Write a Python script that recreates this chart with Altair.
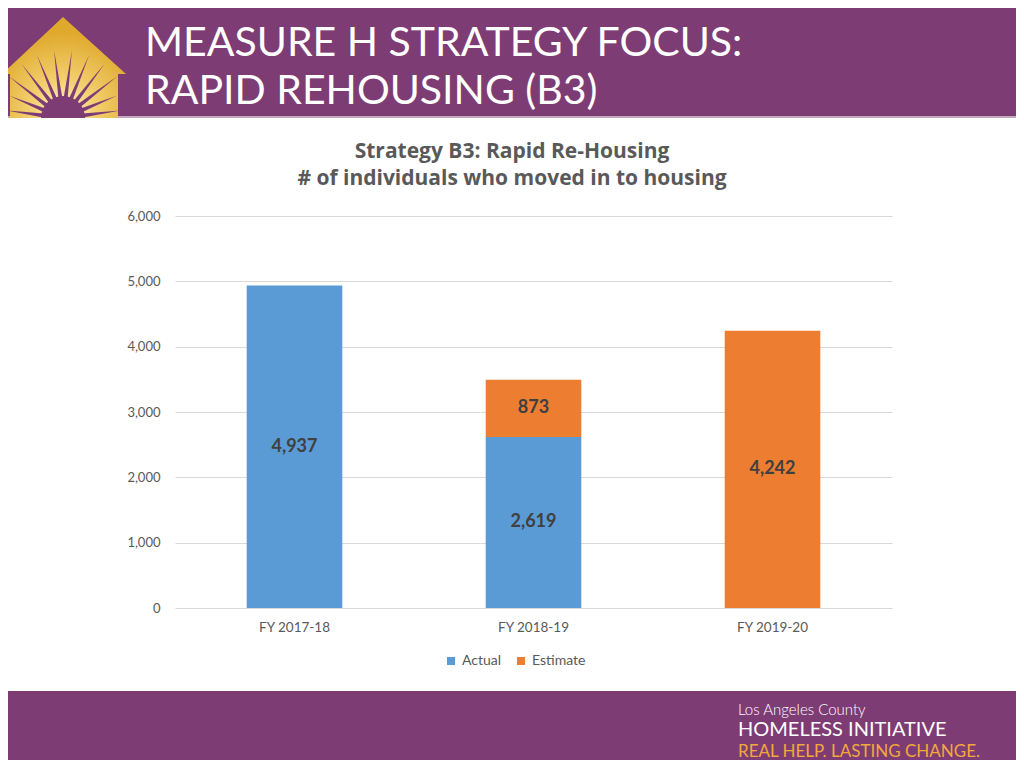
import base64
import math
import altair as alt
import pandas as pd

# ---------------- data ----------------
years = ["FY 2017-18", "FY 2018-19", "FY 2019-20"]
actual = [4937, 2619, 0]
estimate = [0, 873, 4242]
series = ["Actual", "Estimate"]
series_colors = ["#5B9BD5", "#ED7D31"]
y_ticks = [0, 1000, 2000, 3000, 4000, 5000, 6000]

title_lines = ["Strategy B3: Rapid Re-Housing", "# of individuals who moved in to housing"]
header_lines = ["MEASURE H STRATEGY FOCUS:", "RAPID REHOUSING (B3)"]
footer_lines = ["Los Angeles County", "HOMELESS INITIATIVE", "REAL HELP. LASTING CHANGE."]

rows = []
for i, yr in enumerate(years):
    for order, (name, vals) in enumerate(zip(series, [actual, estimate])):
        if vals[i] > 0:
            rows.append({"year": yr, "series": name, "value": vals[i], "order": order})
df = pd.DataFrame(rows)
one = pd.DataFrame({"k": [0]})

PURPLE = "#7E3C74"
TXT = "#595959"
FONT = "Lato"

# plot area: page x 175..892, page y 216..608 ; canvas starts at page (8, 8)
W, H = 717, 392
OX, OY = 175, 216
def px(x):
    return x - OX
def py(y):
    return y - OY

# ---------------- logo (decoration, page coordinates) ----------------
rays = []
cx, cy = 63, 118
for k in range(12):
    a = math.radians(172.5 - 15 * k)
    r_tip = 58 if abs(math.cos(a)) > 0.8 else 68
    pts = []
    for da, r in [(-0.10, 20), (0.0, r_tip), (0.10, 20)]:
        pts.append(f"{cx + r * math.cos(a + da):.1f},{cy - r * math.sin(a + da):.1f}")
    rays.append(f'<polygon points="{" ".join(pts)}" fill="{PURPLE}"/>')
svg = f'''<svg xmlns="http://www.w3.org/2000/svg" width="128" height="110" viewBox="8 8 128 110">
<defs><radialGradient id="g" cx="63" cy="112" r="80" gradientUnits="userSpaceOnUse">
<stop offset="0" stop-color="#FFF6CF"/><stop offset="0.4" stop-color="#F3D070"/><stop offset="1" stop-color="#DFA92C"/></radialGradient>
<clipPath id="c"><polygon points="10,118 10,74 2,74 63,17 126,74 118,74 118,118"/></clipPath></defs>
<polygon points="10,118 10,74 2,74 63,17 126,74 118,74 118,118" fill="url(#g)"/>
<g clip-path="url(#c)">{"".join(rays)}<circle cx="{cx}" cy="{cy}" r="22" fill="{PURPLE}"/></g>
</svg>'''
logo_url = "data:image/svg+xml;base64," + base64.b64encode(svg.encode()).decode()

# ---------------- decorations ----------------
header_band = alt.Chart(one).mark_rect(color=PURPLE).encode(
    x=alt.value(px(8)), x2=alt.value(px(1016)), y=alt.value(py(8)), y2=alt.value(py(116)))
header_line = alt.Chart(one).mark_rect(color="#C4A9BF").encode(
    x=alt.value(px(8)), x2=alt.value(px(1016)), y=alt.value(py(116)), y2=alt.value(py(118)))
footer_band = alt.Chart(one).mark_rect(color=PURPLE).encode(
    x=alt.value(px(8)), x2=alt.value(px(1016)), y=alt.value(py(691)), y2=alt.value(py(760)))
logo = alt.Chart(one).mark_image(url=logo_url, width=128, height=110, align="left", baseline="top").encode(
    x=alt.value(px(8)), y=alt.value(py(8)))

def text(t, x, y, size, color, weight="normal", align="left", font=FONT):
    return alt.Chart(one).mark_text(text=t, fontSize=size, color=color, fontWeight=weight,
                                    align=align, baseline="alphabetic", font=font).encode(
        x=alt.value(px(x)), y=alt.value(py(y)))

texts = [
    text(header_lines[0], 145, 56, 41, "white"),
    text(header_lines[1], 145, 104, 41, "white"),
    text(title_lines[0], 512, 158, 21, TXT, "bold", "center", "Open Sans"),
    text(title_lines[1], 512, 185, 21, TXT, "bold", "center", "Open Sans"),
    text(footer_lines[0], 738, 715, 15, "white", 300),
    text(footer_lines[1], 738, 736, 20, "white"),
    text(footer_lines[2], 738, 757, 17, "#F2A93B"),
]

# ---------------- chart ----------------
x_enc = alt.X("year:N", sort=years,
              scale=alt.Scale(paddingInner=0.6, paddingOuter=0.3),
              axis=alt.Axis(title=None, labelAngle=0, domain=False, ticks=False, grid=False,
                            labelPadding=12, labelFontSize=13.5, labelColor=TXT, labelFont=FONT))
y_enc = alt.Y("value:Q", stack="zero",
              scale=alt.Scale(domain=[0, 6000], nice=False),
              axis=alt.Axis(title=None, values=y_ticks, format=",d", domain=False, ticks=False,
                            labelPadding=15, labelFontSize=13, labelColor=TXT, labelFont=FONT,
                            gridColor="#D9D9D9", gridWidth=1))

bars = alt.Chart(df).mark_bar().encode(
    x=x_enc, y=y_enc,
    color=alt.Color("series:N", scale=alt.Scale(domain=series, range=series_colors),
                    legend=alt.Legend(title=None, orient="none", direction="horizontal",
                                      legendX=px(444), legendY=py(654), padding=0,
                                      symbolType="square", symbolSize=64, symbolStrokeWidth=0,
                                      labelFontSize=14, labelColor=TXT, labelFont=FONT,
                                      labelOffset=4, columnPadding=12)),
    order=alt.Order("order:Q"))

labels = alt.Chart(df).transform_stack(
    stack="value", groupby=["year"], as_=["v0", "v1"], sort=[alt.SortField("order")]
).transform_calculate(mid="(datum.v0 + datum.v1) / 2").mark_text(
    fontSize=18, fontWeight="bold", color="#404040", font=FONT, baseline="middle"
).encode(x=alt.X("year:N", sort=years), y=alt.Y("mid:Q"),
         text=alt.Text("value:Q", format=","))

chart = alt.layer(header_band, header_line, footer_band, logo, *texts, bars, labels).properties(
    width=W, height=H, padding=0, background="white"
).configure_view(stroke=None)

chart.save("out.html", embed_options={"renderer": "svg", "actions": False})
